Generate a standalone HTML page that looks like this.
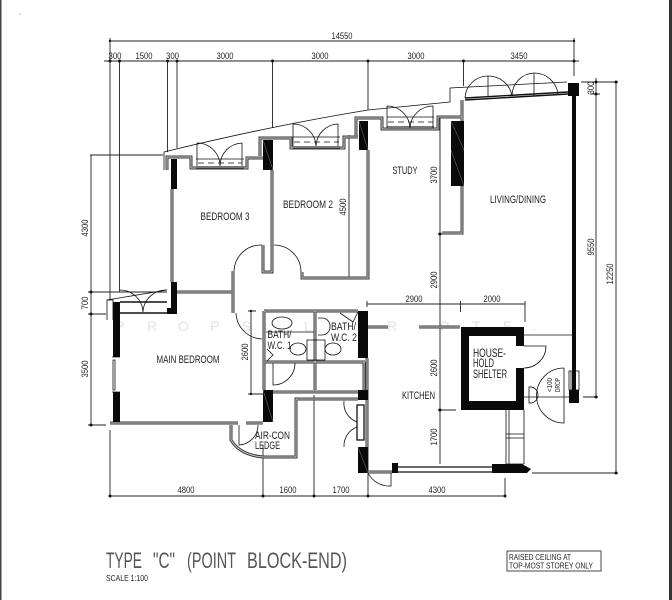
<!DOCTYPE html>
<html><head><meta charset="utf-8"><style>
html,body{margin:0;padding:0;background:#fff;width:672px;height:600px;overflow:hidden}
svg{display:block;font-family:"Liberation Sans",sans-serif}
.d{stroke:#222;stroke-width:.9;fill:none}
.t{stroke:#111;stroke-width:.8;fill:none}
.g{stroke:#3a3a3a;stroke-width:3;fill:none}
.gi{stroke:#c8c8c8;stroke-width:1;fill:none}
.b{fill:#0a0a0a}
.h{stroke:#777;stroke-width:.5;fill:none}
text{fill:#222}
.l{font-size:9.500px}
.r{font-size:11px}
.wm{font-size:14px;fill:#e2e2e2}
</style></head><body>
<svg width="672" height="600" viewBox="0 0 672 600" xmlns="http://www.w3.org/2000/svg">
<rect x="0" y="0" width="1.500" height="600" fill="#444"/>
<rect x="669" y="0" width="3" height="600" fill="#333"/>
<rect x="19" y="13" width="2" height="2" fill="#ddd"/>

<!-- watermark -->
<g><text class="wm" x="115" y="331">P</text><text class="wm" x="147" y="331">R</text><text class="wm" x="178" y="331">O</text><text class="wm" x="210" y="331">P</text><text class="wm" x="242" y="331">S</text><text class="wm" x="304" y="331">L</text><text class="wm" x="358" y="331">E</text><text class="wm" x="387" y="331">R</text><text class="wm" x="440" y="331">P</text><text class="wm" x="472" y="331">T</text><text class="wm" x="503" y="331">E</text><text class="wm" x="532" y="331">.</text></g>

<!-- dimensions -->
<path class="d" d="M110 38V44M110 41H574M574 38V76
M104 61H579
M110 41V300M119.500 61V292M167.500 61V152M177 61V148M272.500 61V128M368 61V110M463.500 61V86
M90 155H163M91 155V425M88 292H167M88 314H106M88 425H106
M581 82H618M590 94H600M596 78V397M616 82V473M583 397H598M532 473H618
M110 430V496M110 496H505M263 445V496M314 395V496M368 472V496M505 478V496
M349 135V279M440 116V464M438 234H463M438 327H460M438 410H456
M367 304H525M367 301V307M460.500 301V312M525 301V322
M251 311V394M248 311H256M248 394H263"/>
<g fill="#111"><circle cx="110" cy="41" r="1.200"/><circle cx="574" cy="41" r="1.200"/><circle cx="110" cy="61" r="1.500"/><circle cx="119.500" cy="61" r="1.500"/><circle cx="167.500" cy="61" r="1.500"/><circle cx="177" cy="61" r="1.500"/><circle cx="272.500" cy="61" r="1.500"/><circle cx="368" cy="61" r="1.500"/><circle cx="463.500" cy="61" r="1.500"/><circle cx="574" cy="61" r="1.500"/><circle cx="91" cy="292" r="1.500"/><circle cx="91" cy="314" r="1.500"/><circle cx="91" cy="425" r="1.500"/><circle cx="110" cy="496" r="1.500"/><circle cx="263" cy="496" r="1.500"/><circle cx="314" cy="496" r="1.500"/><circle cx="368" cy="496" r="1.500"/><circle cx="505" cy="496" r="1.500"/><circle cx="616" cy="82" r="1.500"/><circle cx="596" cy="82" r="1.500"/><circle cx="596" cy="94" r="1.500"/><circle cx="596" cy="397" r="1.500"/><circle cx="616" cy="473" r="1.500"/><circle cx="440" cy="234" r="1.500"/><circle cx="440" cy="327" r="1.500"/><circle cx="440" cy="410" r="1.500"/><circle cx="251" cy="311" r="1.200"/><circle cx="251" cy="394" r="1.200"/></g>

<!-- roof / balcony outlines -->
<path class="t" d="M164 170V152Q270 126 368 110L450 102V88L567 82"/>
<path class="t" d="M107 320V300L167 290"/>

<!-- double-line walls -->
<g class="g" id="walls">
<path d="M167 170V157H191V168H247V158H263"/>
<path d="M260 156V138H291V148H344V137H358"/>
<path d="M356 136V118H382V129H438V117H462"/>
<path d="M462 100V233H442"/>
<path d="M368 150V278H302V272"/>
<path d="M272 170V272H263V245"/>
<path d="M172 189V282"/>
<path d="M177 292H232"/>
<path d="M233 271V313"/>
<path d="M110 423H238M246 423H263"/>
<path d="M264 311H358"/>
<path d="M264 311V390"/>
<path d="M315 311V390"/>
<path d="M265 362H365"/>
<path d="M263 392H367"/>
<path d="M364 362V390"/>
<path d="M231 425V440Q240 455 263 457H296V399H358"/>
<path d="M367 358V473"/>
<path d="M368 327H388M419 327H460"/>
<path d="M368 472H392"/>
</g>
<path class="gi" d="M167 170V157H191V168H247V158H263M260 156V138H291V148H344V137H358M356 136V118H382V129H438V117H462M462 100V233H442M368 150V278H302V272M272 170V272H263V245M172 189V282M177 292H232M233 271V313M110 423H238M246 423H263M264 311H358M264 311V390M315 311V390M265 362H365M263 392H367M364 362V390M231 425V440Q240 455 263 457H296V399H358M367 358V473M368 327H388M419 327H460M368 472H392"/>

<!-- black columns -->
<g class="b">
<rect x="171" y="159" width="6" height="30"/>
<rect x="263" y="140" width="10" height="30"/>
<rect x="359" y="121" width="9" height="29"/>
<rect x="451" y="121" width="13" height="65"/>
<rect x="568" y="83" width="11" height="13"/>
<rect x="572" y="96" width="4" height="294"/>
<rect x="569" y="390" width="10" height="13"/>
<rect x="171" y="282" width="6" height="32"/>
<rect x="167" y="308" width="10" height="6"/>
<rect x="113" y="302" width="7" height="55"/>
<rect x="113" y="392" width="7" height="30"/>
<rect x="263" y="390" width="10" height="32"/>
<rect x="358" y="311" width="10" height="47"/>
<rect x="358" y="390" width="10" height="10"/>
<rect x="358" y="447" width="10" height="26"/>
<rect x="392" y="463" width="6" height="10"/>
<path d="M492 464H522L531 469L527 473H492Z"/>
<path fill-rule="evenodd" d="M461 327H524V410H461ZM469 336V401H516V368H524V346H516V336Z"/>
</g>
<path class="h" d="M263 140L273 170M359 121L368 150M451 121L464 150M451 150L464 186M263 390L273 422M358 447L368 473"/>

<!-- windows & door leaves -->
<g class="t">
<path d="M196 159H244M196 168H244"/>
<path d="M293 137H340M293 148H340"/>
<path d="M387 117H434M387 128H434"/>
<path d="M198 163H242M294 142H339M388 122H433" stroke-dasharray="6 4"/>
<path d="M196 167H244M293 147H340M387 127H434" stroke="#777" stroke-width="2"/>
<path d="M197 143V166M197 143A23 23 0 0 1 220 166A23 23 0 0 1 242 143V166"/>
<path d="M293 124V146M293 124A23 23 0 0 1 316 146A23 23 0 0 1 338 124V146"/>
<path d="M387 106V128M387 106A23 23 0 0 1 410 128A23 23 0 0 1 433 106V128"/>
<path d="M465 98A23 23 0 0 1 488 76A24 24 0 0 1 512 96A23 23 0 0 1 534 73A24 24 0 0 1 558 94"/>
<path d="M488 76V97M534 73V96"/>
<path d="M465 100L568 94M465 98L568 92" stroke-width="1.400"/>
<path d="M120 290A23 23 0 0 1 143 312A23 23 0 0 1 167 290"/>
<path d="M120 302H167M120 313H167" stroke-width="1.500"/>
<path d="M262 245A27 27 0 0 0 234 271M274 245A27 27 0 0 1 301 272M236 313A27 27 0 0 0 262 339"/>
<path d="M112 357H120M112 392H120M113 360H115V390H113Z"/>
<path d="M107 300H113V320"/>
<ellipse cx="282" cy="323" rx="10" ry="6"/>
<path d="M266 332H314"/>
<ellipse cx="298" cy="349" rx="8" ry="6"/>
<ellipse cx="333" cy="349" rx="8" ry="6"/>
<rect x="307" y="340" width="18" height="20"/>
<path d="M318 318H322A8 8 0 0 1 330 326V327A8 8 0 0 1 322 335H318"/>
<path d="M273 363V385A22 22 0 0 0 295 363"/>
<path d="M340 313L353 322L358 312"/>
<path d="M267 349L273 355L267 361"/>
<path d="M239 425V445A20 20 0 0 0 258 425"/>
<path d="M344 401A20 20 0 0 0 357 422M344 447A20 20 0 0 1 357 427"/>
<rect x="357" y="405" width="7" height="35" stroke-width="1.300"/>
<path d="M398 467H492M398 472H492" stroke-width="1.300"/>
<path d="M391 473V486A24 24 0 0 1 368 473"/>
<path d="M524 346H546A22 22 0 0 1 524 368"/>
<path d="M524 335H573M524 397H569"/>
<path d="M506 410V464M509 410V464M524 410V464M506 434H524M506 438H524M506 464H524"/>
<path d="M564 368A27 27 0 0 0 564 423V368"/>
<path d="M529 387A8 8 0 0 1 538 395A8 8 0 0 1 529 403Z"/>
<rect x="569" y="371" width="10" height="19"/>
<path d="M571 371V390"/>
</g>

<!-- labels -->
<g class="l" text-anchor="middle">
<text x="342" y="39" textLength="21" lengthAdjust="spacingAndGlyphs">14550</text>
<text x="115" y="59" textLength="13" lengthAdjust="spacingAndGlyphs">300</text>
<text x="144" y="59" textLength="17" lengthAdjust="spacingAndGlyphs">1500</text>
<text x="172.500" y="59" textLength="13" lengthAdjust="spacingAndGlyphs">300</text>
<text x="225" y="59" textLength="17" lengthAdjust="spacingAndGlyphs">3000</text>
<text x="320" y="59" textLength="17" lengthAdjust="spacingAndGlyphs">3000</text>
<text x="416" y="59" textLength="17" lengthAdjust="spacingAndGlyphs">3000</text>
<text x="519" y="59" textLength="17" lengthAdjust="spacingAndGlyphs">3450</text>
<text x="186" y="493" textLength="17" lengthAdjust="spacingAndGlyphs">4800</text>
<text x="288" y="493" textLength="17" lengthAdjust="spacingAndGlyphs">1600</text>
<text x="341" y="493" textLength="17" lengthAdjust="spacingAndGlyphs">1700</text>
<text x="437" y="493" textLength="17" lengthAdjust="spacingAndGlyphs">4300</text>
<text x="414" y="302" textLength="17" lengthAdjust="spacingAndGlyphs">2900</text>
<text x="492" y="302" textLength="17" lengthAdjust="spacingAndGlyphs">2000</text>
</g>
<g class="r" text-anchor="middle">
<text x="225" y="220" textLength="49" lengthAdjust="spacingAndGlyphs">BEDROOM 3</text>
<text x="308" y="208" textLength="50" lengthAdjust="spacingAndGlyphs">BEDROOM 2</text>
<text x="405" y="174" textLength="25" lengthAdjust="spacingAndGlyphs">STUDY</text>
<text x="518" y="203" textLength="56" lengthAdjust="spacingAndGlyphs">LIVING/DINING</text>
<text x="188" y="363" textLength="63" lengthAdjust="spacingAndGlyphs">MAIN BEDROOM</text>
<text x="418.500" y="399" textLength="33" lengthAdjust="spacingAndGlyphs">KITCHEN</text>
</g>
<g class="r">
<text x="267.500" y="338" textLength="24" lengthAdjust="spacingAndGlyphs">BATH/</text>
<text x="267.500" y="349" textLength="24" lengthAdjust="spacingAndGlyphs">W.C. 1</text>
<text x="331" y="330" textLength="25" lengthAdjust="spacingAndGlyphs">BATH/</text>
<text x="331" y="341" textLength="26" lengthAdjust="spacingAndGlyphs">W.C. 2</text>
<text x="255" y="439" textLength="35" lengthAdjust="spacingAndGlyphs">AIR-CON</text>
<text x="255" y="449" textLength="25" lengthAdjust="spacingAndGlyphs">LEDGE</text>
<text x="473" y="357" textLength="33" font-size="12" lengthAdjust="spacingAndGlyphs">HOUSE-</text>
<text x="473" y="367" textLength="21" font-size="12" lengthAdjust="spacingAndGlyphs">HOLD</text>
<text x="473" y="378" textLength="34" font-size="12" lengthAdjust="spacingAndGlyphs">SHELTER</text>
</g>
<g class="l" text-anchor="middle">
<text transform="translate(88,228) rotate(-90)" textLength="17" lengthAdjust="spacingAndGlyphs">4300</text>
<text transform="translate(88,303) rotate(-90)" textLength="13" lengthAdjust="spacingAndGlyphs">700</text>
<text transform="translate(88,369) rotate(-90)" textLength="17" lengthAdjust="spacingAndGlyphs">3500</text>
<text transform="translate(346,207) rotate(-90)" textLength="17" lengthAdjust="spacingAndGlyphs">4500</text>
<text transform="translate(437,175) rotate(-90)" textLength="17" lengthAdjust="spacingAndGlyphs">3700</text>
<text transform="translate(437,280) rotate(-90)" textLength="17" lengthAdjust="spacingAndGlyphs">2900</text>
<text transform="translate(437,368) rotate(-90)" textLength="17" lengthAdjust="spacingAndGlyphs">2600</text>
<text transform="translate(437,437) rotate(-90)" textLength="17" lengthAdjust="spacingAndGlyphs">1700</text>
<text transform="translate(248,352) rotate(-90)" textLength="17" lengthAdjust="spacingAndGlyphs">2600</text>
<text transform="translate(594,88) rotate(-90)" textLength="13" lengthAdjust="spacingAndGlyphs">300</text>
<text transform="translate(594,247) rotate(-90)" textLength="17" lengthAdjust="spacingAndGlyphs">9550</text>
<text transform="translate(613,274) rotate(-90)" textLength="21" lengthAdjust="spacingAndGlyphs">12250</text>
<text transform="translate(552,385) rotate(-90)" textLength="14" font-size="7" lengthAdjust="spacingAndGlyphs">&lt;100</text>
<text transform="translate(560,385) rotate(-90)" textLength="14" font-size="7" lengthAdjust="spacingAndGlyphs">DROP</text>
</g>

<!-- title -->
<g font-size="22" style="fill:#555">
<text x="106" y="568" textLength="36" lengthAdjust="spacingAndGlyphs" style="fill:#555">TYPE</text>
<text x="153" y="568" textLength="22" lengthAdjust="spacingAndGlyphs" style="fill:#555">"C"</text>
<text x="187" y="568" textLength="49" lengthAdjust="spacingAndGlyphs" style="fill:#555">(POINT</text>
<text x="247" y="568" textLength="100" lengthAdjust="spacingAndGlyphs" style="fill:#555">BLOCK-END)</text>
</g>
<text x="106" y="581" font-size="8" textLength="42" lengthAdjust="spacingAndGlyphs">SCALE 1:100</text>
<rect x="507" y="551" width="94" height="20" fill="none" stroke="#333" stroke-width=".9"/>
<text x="509" y="560" font-size="8" textLength="62" lengthAdjust="spacingAndGlyphs">RAISED CEILING AT</text>
<text x="509" y="568.500" font-size="8" textLength="84" lengthAdjust="spacingAndGlyphs">TOP-MOST STOREY ONLY</text>
</svg>
</body></html>
